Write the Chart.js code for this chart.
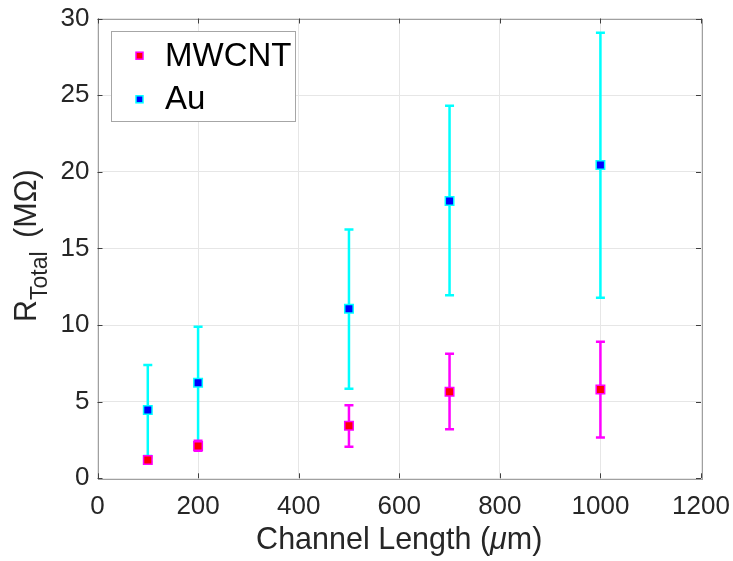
<!DOCTYPE html>
<html><head><meta charset="utf-8">
<script src="https://cdn.jsdelivr.net/npm/chart.js@4.4.1/dist/chart.umd.min.js"></script>
<style>html,body{margin:0;padding:0;background:#fff}#wrap{width:733px;height:561px}</style>
</head><body><div id="wrap"><canvas id="c" width="733" height="561"></canvas></div>
<script>
// ---- data ----
const channelLength = [100, 200, 500, 700, 1000];
const mwcntR     = [1.2, 2.1, 3.43, 5.65, 5.8];
const mwcntLow   = [1.05, 1.8, 2.06, 3.2, 2.67];
const mwcntHigh  = [1.35, 2.45, 4.76, 8.13, 8.91];
const auR        = [4.46, 6.24, 11.06, 18.09, 20.44];
const auLow      = [1.45, 2.35, 5.85, 11.94, 11.78];
const auHigh     = [7.39, 9.89, 16.24, 24.3, 29.07];
const xTicks = [0, 200, 400, 600, 800, 1000, 1200];
const yTicks = [0, 5, 10, 15, 20, 25, 30];
const seriesNames = ['MWCNT', 'Au'];

const FONT = '"Liberation Sans", Arial, Helvetica, sans-serif';
const TXT = '#262626';
const errors = [
  {low: mwcntLow, high: mwcntHigh, color: '#ff00ff'},
  {low: auLow, high: auHigh, color: '#00ffff'}
];

const errPlugin = {
  id: 'errbars',
  beforeDatasetDraw(chart, args) {
    const e = errors[args.index];
    const xs = chart.scales.x, ys = chart.scales.y, ctx = chart.ctx;
    ctx.save();
    ctx.strokeStyle = e.color; ctx.lineWidth = 2.5; ctx.lineCap = 'butt';
    channelLength.forEach((v, i) => {
      const x = xs.getPixelForValue(v);
      const yl = ys.getPixelForValue(e.low[i]), yh = ys.getPixelForValue(e.high[i]);
      ctx.beginPath();
      ctx.moveTo(x, yl); ctx.lineTo(x, yh);
      ctx.moveTo(x - 4.5, yl); ctx.lineTo(x + 4.5, yl);
      ctx.moveTo(x - 4.5, yh); ctx.lineTo(x + 4.5, yh);
      ctx.stroke();
    });
    ctx.restore();
  }
};

const decoPlugin = {
  id: 'deco',
  afterDraw(chart) {
    const ctx = chart.ctx, a = chart.chartArea, xs = chart.scales.x, ys = chart.scales.y;
    ctx.save();
    // box
    ctx.strokeStyle = '#a0a0a0'; ctx.lineWidth = 1;
    ctx.strokeRect(Math.round(a.left) + 0.5, Math.round(a.top) + 0.5, Math.round(a.right - a.left), Math.round(a.bottom - a.top));
    // inward ticks
    ctx.strokeStyle = '#404040';
    ctx.beginPath();
    xTicks.forEach(v => {
      const x = Math.round(xs.getPixelForValue(v)) + 0.5;
      ctx.moveTo(x, a.bottom); ctx.lineTo(x, a.bottom - 5);
      ctx.moveTo(x, a.top); ctx.lineTo(x, a.top + 5);
    });
    yTicks.forEach(v => {
      const y = Math.round(ys.getPixelForValue(v)) + 0.5;
      ctx.moveTo(a.left, y); ctx.lineTo(a.left + 5, y);
      ctx.moveTo(a.right, y); ctx.lineTo(a.right - 5, y);
    });
    ctx.stroke();

    // x title
    ctx.fillStyle = TXT; ctx.textBaseline = 'alphabetic'; ctx.textAlign = 'left';
    const parts = [['Channel Length (', 'normal'], ['\u03bc', 'italic'], ['m)', 'normal']];
    let tot = 0;
    parts.forEach(p => { ctx.font = p[1] + ' 30.5px ' + FONT; tot += ctx.measureText(p[0]).width; });
    let cx = (a.left + a.right) / 2 - tot / 2;
    parts.forEach(p => { ctx.font = p[1] + ' 30.5px ' + FONT; ctx.fillText(p[0], cx, 549); cx += ctx.measureText(p[0]).width; });

    // y title
    ctx.save();
    ctx.translate(36, 322); ctx.rotate(-Math.PI / 2);
    ctx.font = '30.5px ' + FONT; ctx.fillText('R', 0, 0); let w = ctx.measureText('R').width;
    ctx.font = '23px ' + FONT; ctx.fillText('Total', w, 11); w += ctx.measureText('Total').width + 5;
    ctx.font = '30.5px ' + FONT; ctx.fillText(' (M\u03a9)', w, 0);
    ctx.restore();

    // legend
    const lx = 111.5, ly = 31.5, lw = 184, lh = 90;
    ctx.fillStyle = '#ffffff'; ctx.fillRect(lx, ly, lw, lh);
    ctx.strokeStyle = '#a6a6a6'; ctx.lineWidth = 1; ctx.strokeRect(lx, ly, lw, lh);
    const rows = [55.7, 99.3];
    chart.data.datasets.forEach((ds, i) => {
      const y = rows[i];
      ctx.fillStyle = ds.backgroundColor; ctx.strokeStyle = ds.borderColor; ctx.lineWidth = 1.5;
      ctx.fillRect(136, y - 3.5, 7, 7); ctx.strokeRect(136, y - 3.5, 7, 7);
      ctx.fillStyle = '#000'; ctx.font = '33px ' + FONT; ctx.textBaseline = 'middle';
      ctx.fillText(ds.label, 165, y + 1);
    });
    ctx.restore();
  }
};

const mk = (arr) => channelLength.map((x, i) => ({x: x, y: arr[i]}));

new Chart(document.getElementById('c'), {
  type: 'scatter',
  data: {
    datasets: [
      {label: seriesNames[0], data: mk(mwcntR), backgroundColor: '#ff0000', borderColor: '#ff00ff',
       pointStyle: 'rect', pointRadius: 6, borderWidth: 1.5, pointHoverRadius: 6},
      {label: seriesNames[1], data: mk(auR), backgroundColor: '#0000ff', borderColor: '#00ffff',
       pointStyle: 'rect', pointRadius: 6, borderWidth: 1.5, pointHoverRadius: 6}
    ]
  },
  options: {
    responsive: false, animation: false, devicePixelRatio: 1,
    layout: {padding: {left: 0, top: 18.5, right: 32, bottom: 0}},
    plugins: {legend: {display: false}, tooltip: {enabled: false}},
    scales: {
      x: {
        type: 'linear', min: 0, max: 1200,
        afterBuildTicks: s => { s.ticks = xTicks.map(v => ({value: v})); },
        afterFit: s => { s.height = 82.7; s.paddingLeft = 0; s.paddingRight = 0; },
        ticks: {color: TXT, font: {family: FONT, size: 26}, padding: 13, maxRotation: 0,
                callback: v => String(v)},
        grid: {color: '#e6e6e6', drawTicks: false},
        border: {display: false}
      },
      y: {
        min: 0, max: 30,
        afterBuildTicks: s => { s.ticks = yTicks.map(v => ({value: v})); },
        afterFit: s => { s.width = 97.5; s.paddingTop = 0; s.paddingBottom = 0; },
        ticks: {color: TXT, font: {family: FONT, size: 26}, padding: 8, callback: v => String(v)},
        grid: {color: '#e6e6e6', drawTicks: false},
        border: {display: false}
      }
    }
  },
  plugins: [errPlugin, decoPlugin]
});
</script></body></html>
